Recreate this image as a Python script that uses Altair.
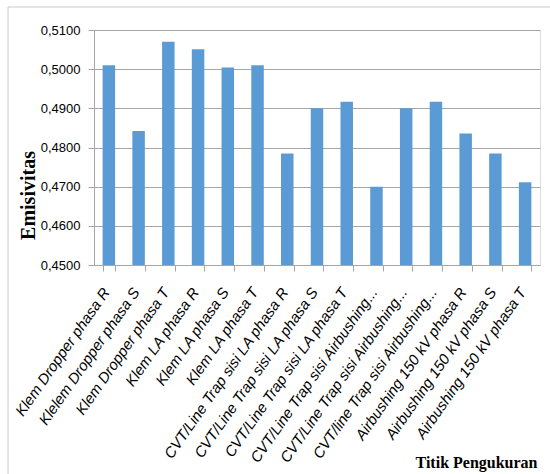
import altair as alt
import pandas as pd

# Measurement points (category order as drawn on the x axis)
titik = [
    "Klem Dropper phasa R",
    "Klelem Dropper phasa S",
    "Klem Dropper phasa T",
    "Klem LA phasa R",
    "Klem LA phasa S",
    "Klem LA phasa T",
    "CVT/Line Trap sisi LA phasa R",
    "CVT/Line Trap sisi LA phasa S",
    "CVT/Line Trap sisi LA phasa T",
    "CVT/Line Trap sisi Airbushing phasa R",
    "CVT/Line Trap sisi Airbushing phasa S",
    "CVT/line Trap sisi Airbushing phasa T",
    "Airbushing 150 kV phasa R",
    "Airbushing 150 kV phasa S",
    "Airbushing 150 kV phasa T",
]

# Emissivity at each point
emisivitas = [
    0.5010, 0.4842, 0.5070, 0.5051, 0.5004, 0.5010, 0.4785, 0.4900,
    0.4917, 0.4700, 0.4900, 0.4917, 0.4836, 0.4785, 0.4711,
]

y_ticks = [0.45, 0.46, 0.47, 0.48, 0.49, 0.50, 0.51]

df = pd.DataFrame({"titik": titik, "emisivitas": emisivitas})

W, H = 446, 235
GRID = "#a6a6a6"
NARROW = "'Liberation Sans Narrow', 'Liberation Sans', sans-serif"
SERIF = "'Liberation Serif', 'Times New Roman', serif"

bars = alt.Chart(df).mark_bar(color="#5B9BD5").encode(
    x=alt.X(
        "titik:N",
        sort=None,
        title="Titik Pengukuran",
        scale=alt.Scale(paddingInner=0.58, paddingOuter=0.29),
        axis=alt.Axis(
            labelAngle=-55,
            labelAlign="right",
            labelBaseline="middle",
            labelFont="Liberation Sans",
            labelFontStyle="italic",
            labelFontSize=15,
            labelColor="#000000",
            labelPadding=18,
            labelOffset=-3,
            labelLimit=400,
            labelExpr="length(datum.label) > 32 ? slice(datum.label, 0, 29) + '...' : datum.label",
            tickBand="extent",
            tickSize=6,
            tickColor=GRID,
            domainColor=GRID,
            grid=False,
            titleFont=SERIF,
            titleFontWeight="bold",
            titleFontSize=16,
            titleColor="#000000",
            titleAlign="right",
            titleBaseline="alphabetic",
            titleX=443,
            titleY=202,
        ),
    ),
    y=alt.Y(
        "emisivitas:Q",
        title="Emisivitas",
        scale=alt.Scale(domain=[0.45, 0.51], zero=False, nice=False),
        axis=alt.Axis(
            values=y_ticks,
            labelExpr="replace(format(datum.value, '.4f'), '.', ',')",
            labelFont=NARROW,
            labelFontSize=13,
            labelColor="#000000",
            labelPadding=8,
            tickSize=6,
            tickColor=GRID,
            domainColor=GRID,
            grid=True,
            gridColor=GRID,
            gridWidth=1,
            titleFont=SERIF,
            titleFontWeight="bold",
            titleFontSize=20,
            titleColor="#000000",
            titleAlign="center",
            titleBaseline="middle",
            titleAngle=-90,
            titleX=-66,
            titleY=165,
        ),
    ),
    y2=alt.datum(0.45),
)

# Outer chart frame
one = pd.DataFrame({"k": [0]})
frame_v = alt.Chart(one).mark_rule(color="#c8c8c8", strokeWidth=1).encode(
    x=alt.value(-86), y=alt.value(-23), y2=alt.value(600)
)
frame_h = alt.Chart(one).mark_rule(color="#c8c8c8", strokeWidth=1).encode(
    x=alt.value(-86), x2=alt.value(700), y=alt.value(-23)
)

chart = alt.layer(frame_v, frame_h, bars).properties(
    width=W,
    height=H,
    autosize=alt.AutoSizeParams(type="none"),
    padding={"left": 94, "top": 30, "right": 10, "bottom": 209},
).configure_view(stroke=None).configure(background="white")

chart.save("out.html", embed_options={"renderer": "svg", "actions": False})
